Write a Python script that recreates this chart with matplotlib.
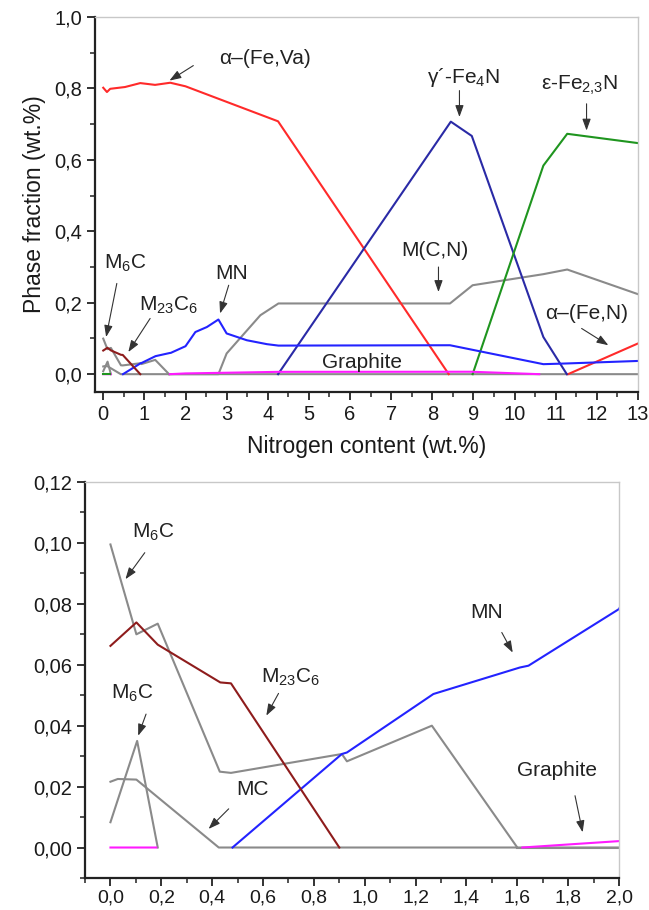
import numpy as np
import matplotlib
matplotlib.use("Agg")
import matplotlib.pyplot as plt
from matplotlib.ticker import MultipleLocator, FixedLocator, FixedFormatter

plt.rcParams['font.family'] = ['Liberation Sans', 'DejaVu Sans']
plt.rcParams['mathtext.default'] = 'regular'

nan = np.nan
# ---------------- data ----------------
# alpha-(Fe,Va)
fe_va_x = [0, 0.09, 0.17, 0.53, 0.9, 1.26, 1.63, 2.0, 4.25, 8.4]
fe_va_y = [0.802, 0.79, 0.799, 0.804, 0.815, 0.81, 0.816, 0.806, 0.708, 0.0]
# alpha-(Fe,N)
fe_n_x = [11.3, 13.0]
fe_n_y = [0.0, 0.086]
# gamma'-Fe4N
g_fe4n_x = [4.25, 8.45, 8.96, 10.7, 11.27]
g_fe4n_y = [0.0, 0.707, 0.667, 0.104, 0.0]
# epsilon-Fe2,3N
e_fe23n_x = [8.98, 10.7, 11.28, 13.0]
e_fe23n_y = [0.0, 0.584, 0.673, 0.647]
# short green segment at origin (top chart)
fcc_x = [0.0, 0.17]
fcc_y = [0.0, 0.0]
# MN
mn_x = [0.48, 0.91, 0.93, 1.27, 1.61, 1.644, 2.0, 2.24, 2.52, 2.80, 3.0, 3.49, 3.98, 4.26, 8.43, 10.7, 11.27, 13.0]
mn_y = [0.0, 0.0307, 0.0312, 0.0504, 0.0591, 0.0597, 0.0783, 0.118, 0.132, 0.153, 0.114, 0.095, 0.084, 0.080, 0.081, 0.028, 0.030, 0.037]
# M23C6
m23c6_x = [0.0, 0.102, 0.186, 0.432, 0.474, 0.90]
m23c6_y = [0.0662, 0.0739, 0.0666, 0.0542, 0.0539, 0.0]
# M6C (large)
m6c_a_x = [0.0, 0.102, 0.186, 0.43, 0.474, 0.91, 0.93, 1.264, 1.60]
m6c_a_y = [0.0995, 0.0700, 0.0735, 0.0249, 0.0245, 0.0307, 0.0283, 0.0400, 0.0]
# M6C (small)
m6c_b_x = [0.0, 0.105, 0.186]
m6c_b_y = [0.0083, 0.0350, 0.0]
# MC
mc_x = [0.0, 0.029, 0.102, 0.426, 13.0]
mc_y = [0.0216, 0.0225, 0.0223, 0.0, 0.0]
# M(C,N)
mcn_x = [1.6, 2.8, 3.0, 3.82, 4.26, 8.43, 8.98, 10.7, 11.28, 13.0]
mcn_y = [0.0, 0.0, 0.058, 0.165, 0.198, 0.198, 0.249, 0.280, 0.293, 0.224]
# Graphite
graphite_x = [0.0, 0.18, nan, 1.62, 2.0, 3.0, 4.25, 8.95, 10.6]
graphite_y = [0.0, 0.0, nan, 0.0, 0.0021, 0.004, 0.0065, 0.0068, 0.0]

top_xticks = [0, 1, 2, 3, 4, 5, 6, 7, 8, 9, 10, 11, 12, 13]
top_xlabels = ['0', '1', '2', '3', '4', '5', '6', '7', '8', '9', '10', '11', '12', '13']
top_yticks = [0.0, 0.2, 0.4, 0.6, 0.8, 1.0]
top_ylabels = ['0,0', '0,2', '0,4', '0,6', '0,8', '1,0']
bot_xticks = [0.0, 0.2, 0.4, 0.6, 0.8, 1.0, 1.2, 1.4, 1.6, 1.8, 2.0]
bot_xlabels = ['0,0', '0,2', '0,4', '0,6', '0,8', '1,0', '1,2', '1,4', '1,6', '1,8', '2,0']
bot_yticks = [0.00, 0.02, 0.04, 0.06, 0.08, 0.10, 0.12]
bot_ylabels = ['0,00', '0,02', '0,04', '0,06', '0,08', '0,10', '0,12']

C_RED = '#ff2a2a'
C_BLUE = '#2323ff'
C_NAVY = '#2a2aa6'
C_GREEN = '#1f951f'
C_GRAY = '#8a8a8a'
C_DRED = '#8e1c1c'
C_MAG = '#ff1aff'
LW = 1.5

fig = plt.figure(figsize=(6.49, 9.10), dpi=100)
ax1 = fig.add_axes([0.1464, 0.5692, 0.8366, 0.4121])
ax2 = fig.add_axes([0.1310, 0.0352, 0.8228, 0.4351])


def style(ax):
    for s in ['top', 'right']:
        ax.spines[s].set_color('#c8c8c8')
        ax.spines[s].set_linewidth(1.0)
    for s in ['left', 'bottom']:
        ax.spines[s].set_color('#222222')
        ax.spines[s].set_linewidth(1.6)
    ax.tick_params(which='major', direction='out', length=6, width=1.3,
                   labelsize=14.5, pad=3.5, color='#222222', labelcolor='#1a1a1a',
                   top=False, right=False)
    ax.tick_params(which='minor', direction='out', length=3.5, width=1.1,
                   color='#222222', top=False, right=False)


def arrow(ax, tail, head):
    ax.annotate('', xy=head, xytext=tail,
                arrowprops=dict(arrowstyle='-|>,head_length=0.5,head_width=0.18',
                                color='#333333', lw=0.8,
                                mutation_scale=14, shrinkA=0, shrinkB=0))


def draw_lines(ax, top):
    ax.plot(m6c_a_x, m6c_a_y, color=C_GRAY, lw=LW)
    ax.plot(m6c_b_x, m6c_b_y, color=C_GRAY, lw=LW)
    ax.plot(mc_x, mc_y, color=C_GRAY, lw=LW)
    ax.plot(mcn_x, mcn_y, color=C_GRAY, lw=LW)
    ax.plot(fe_va_x, fe_va_y, color=C_RED, lw=LW)
    ax.plot(fe_n_x, fe_n_y, color=C_RED, lw=LW)
    ax.plot(g_fe4n_x, g_fe4n_y, color=C_NAVY, lw=LW)
    ax.plot(e_fe23n_x, e_fe23n_y, color=C_GREEN, lw=LW)
    ax.plot(mn_x, mn_y, color=C_BLUE, lw=LW)
    ax.plot(m23c6_x, m23c6_y, color=C_DRED, lw=LW)
    ax.plot(graphite_x, graphite_y, color=C_MAG, lw=LW)
    if top:
        ax.plot(fcc_x, fcc_y, color=C_GREEN, lw=LW)


# ---------------- top chart ----------------
draw_lines(ax1, True)
ax1.set_xlim(-0.2, 13)
ax1.set_ylim(-0.05, 1.0)
ax1.xaxis.set_major_locator(FixedLocator(top_xticks))
ax1.xaxis.set_major_formatter(FixedFormatter(top_xlabels))
ax1.xaxis.set_minor_locator(MultipleLocator(0.5))
ax1.yaxis.set_major_locator(FixedLocator(top_yticks))
ax1.yaxis.set_major_formatter(FixedFormatter(top_ylabels))
ax1.yaxis.set_minor_locator(MultipleLocator(0.1))
style(ax1)
ax1.set_xlabel('Nitrogen content (wt.%)', fontsize=16.5, labelpad=8, color='#1a1a1a')
ax1.set_ylabel('Phase fraction (wt.%)', fontsize=16.5, labelpad=6, color='#1a1a1a')

fs = 15
tc = '#222222'
ax1.text(3.94, 0.884, 'α–(Fe,Va)', fontsize=fs, ha='center', va='center', color=tc)
arrow(ax1, (2.19, 0.864), (1.61, 0.822))
ax1.text(8.76, 0.832, 'γ´-Fe$_{4}$N', fontsize=fs, ha='center', va='center', color=tc)
arrow(ax1, (8.66, 0.794), (8.66, 0.72))
ax1.text(11.59, 0.808, 'ε-Fe$_{2{,}3}$N', fontsize=fs, ha='center', va='center', color=tc)
arrow(ax1, (11.75, 0.757), (11.75, 0.682))
ax1.text(8.07, 0.347, 'M(C,N)', fontsize=fs, ha='center', va='center', color=tc)
arrow(ax1, (8.15, 0.30), (8.15, 0.23))
ax1.text(11.75, 0.17, 'α–(Fe,N)', fontsize=fs, ha='center', va='center', color=tc)
arrow(ax1, (11.63, 0.128), (12.28, 0.081))
ax1.text(6.29, 0.034, 'Graphite', fontsize=fs, ha='center', va='center', color=tc)
ax1.text(3.13, 0.282, 'MN', fontsize=fs, ha='center', va='center', color=tc)
arrow(ax1, (3.05, 0.249), (2.84, 0.17))
ax1.text(0.53, 0.31, 'M$_{6}$C', fontsize=fs, ha='center', va='center', color=tc)
arrow(ax1, (0.33, 0.254), (0.07, 0.104))
ax1.text(1.59, 0.193, 'M$_{23}$C$_{6}$', fontsize=fs, ha='center', va='center', color=tc)
arrow(ax1, (1.14, 0.156), (0.61, 0.062))

# ---------------- bottom chart ----------------
draw_lines(ax2, False)
ax2.set_xlim(-0.1, 2.0)
ax2.set_ylim(-0.01, 0.12)
ax2.xaxis.set_major_locator(FixedLocator(bot_xticks))
ax2.xaxis.set_major_formatter(FixedFormatter(bot_xlabels))
ax2.xaxis.set_minor_locator(MultipleLocator(0.1))
ax2.yaxis.set_major_locator(FixedLocator(bot_yticks))
ax2.yaxis.set_major_formatter(FixedFormatter(bot_ylabels))
ax2.yaxis.set_minor_locator(MultipleLocator(0.01))
style(ax2)
ax2.tick_params(axis='x', which='major', labelsize=14, pad=2.5)

ax2.text(0.17, 0.1034, 'M$_{6}$C', fontsize=fs, ha='center', va='center', color=tc)
arrow(ax2, (0.135, 0.0968), (0.059, 0.0881))
ax2.text(0.085, 0.0505, 'M$_{6}$C', fontsize=fs, ha='center', va='center', color=tc)
arrow(ax2, (0.14, 0.0438), (0.109, 0.0367))
ax2.text(0.707, 0.0558, 'M$_{23}$C$_{6}$', fontsize=fs, ha='center', va='center', color=tc)
arrow(ax2, (0.661, 0.0506), (0.613, 0.0433))
ax2.text(0.557, 0.0189, 'MC', fontsize=fs, ha='center', va='center', color=tc)
arrow(ax2, (0.465, 0.0127), (0.386, 0.0061))
ax2.text(1.48, 0.0771, 'MN', fontsize=fs, ha='center', va='center', color=tc)
arrow(ax2, (1.539, 0.0706), (1.582, 0.064))
ax2.text(1.755, 0.0252, 'Graphite', fontsize=fs, ha='center', va='center', color=tc)
arrow(ax2, (1.827, 0.017), (1.857, 0.005))

fig.savefig('out.png', dpi=100)
